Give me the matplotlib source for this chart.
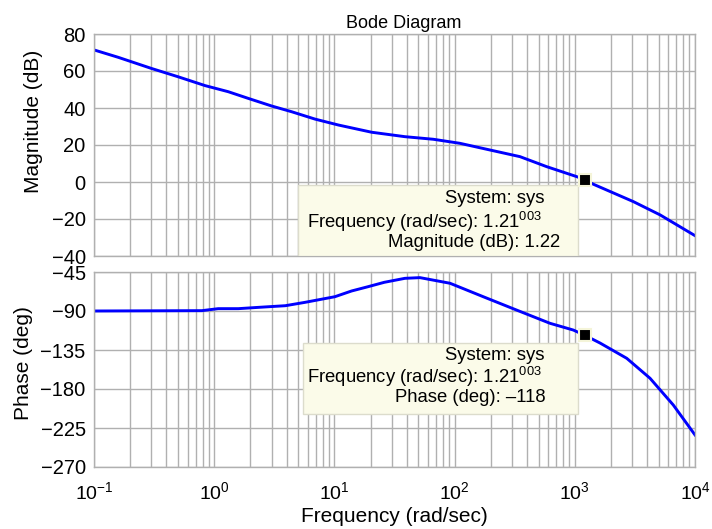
import matplotlib
matplotlib.use('Agg')
import matplotlib.pyplot as plt
from matplotlib.patches import Rectangle
from matplotlib.ticker import LogLocator, NullFormatter

plt.rcParams['font.family'] = ['Liberation Sans', 'DejaVu Sans']
plt.rcParams['mathtext.default'] = 'regular'

# Magnitude curve
mag_freq = [0.1, 0.159, 0.30, 0.50, 0.84, 1.31, 1.92, 3.0, 4.4, 6.9, 10.8, 20.4,
            38.6, 66.5, 111, 197, 350, 583, 1038, 1210, 1426, 3070, 5130, 10000]
mag_db = [71.4, 67.4, 61.4, 56.9, 52.1, 48.8, 45.2, 41.1, 38.0, 34.0, 30.8, 26.9,
          24.5, 23.1, 20.9, 17.3, 13.7, 8.3, 2.9, 1.22, -1.2, -10.6, -17.8, -29.0]

# Phase curve
phase_freq = [0.1, 0.79, 1.08, 1.59, 2.33, 3.9, 5.7, 10.1, 13.9, 19, 26, 38.6,
              51.5, 91.6, 173, 329, 622, 973, 1210, 1624, 2705, 4225, 6600, 10000]
phase_deg = [-90, -89.6, -87.3, -87.3, -85.8, -83.9, -80, -73.5, -66.9, -62, -56.9, -52.3,
             -51.5, -58, -73.5, -89, -104.2, -112, -118, -127, -144.6, -167.6, -198.5, -233]

# data tip
tip_freq = 1210
tip_mag = 1.22
tip_phase = -118

mag_ticks = [80, 60, 40, 20, 0, -20, -40]
phase_ticks = [-45, -90, -135, -180, -225, -270]

grid_col = '#b0b0b0'
line_col = '#0000ff'
tip_face = '#fbfbe9'
tip_edge = '#dcdccc'

fig = plt.figure(figsize=(7.12, 5.29), dpi=100)
ax1 = fig.add_axes([94 / 712, 1 - 256 / 529, 601 / 712, 222 / 529])
ax2 = fig.add_axes([94 / 712, 1 - 467 / 529, 601 / 712, 195 / 529], sharex=ax1)

for ax in (ax1, ax2):
    ax.set_xscale('log')
    ax.set_xlim(0.1, 1e4)
    ax.xaxis.set_major_locator(LogLocator(base=10, numticks=10))
    ax.xaxis.set_minor_locator(LogLocator(base=10, subs=range(2, 10), numticks=20))
    ax.xaxis.set_minor_formatter(NullFormatter())
    ax.grid(True, which='both', axis='x', color=grid_col, lw=1.0)
    ax.grid(True, which='major', axis='y', color=grid_col, lw=1.0)
    ax.tick_params(which='both', length=0)
    ax.tick_params(axis='y', labelsize=14.5, pad=6)
    ax.tick_params(axis='x', labelsize=14, pad=10)
    for s in ax.spines.values():
        s.set_color(grid_col)
        s.set_linewidth(1.0)
    ax.set_axisbelow(True)

ax1.plot(mag_freq, mag_db, color=line_col, lw=2.1)
ax1.set_ylim(-40, 80)
ax1.set_yticks(mag_ticks)
ax1.tick_params(labelbottom=False)
ax1.set_ylabel('Magnitude (dB)', fontsize=15)
ax1.yaxis.set_label_coords(-0.085, 0.608)
ax1.set_title('Bode Diagram', fontsize=13, x=0.516, pad=4)

ax2.plot(phase_freq, phase_deg, color=line_col, lw=2.1)
ax2.set_ylim(-270, -45)
ax2.set_yticks(phase_ticks)
ax2.set_ylabel('Phase (deg)', fontsize=15)
ax2.yaxis.set_label_coords(-0.101, 0.533)
ax2.set_xlabel('Frequency (rad/sec)', fontsize=15, labelpad=3)


def data_tip(ax, box, rows, marker_y):
    x0, y0, w, h = box
    ax.add_patch(Rectangle((x0, y0), w, h, transform=ax.transAxes,
                           facecolor=tip_face, edgecolor=tip_edge, lw=1.0, zorder=3))
    for (tx, ty, s) in rows:
        ax.text(tx, ty, s, transform=ax.transAxes, fontsize=13.3,
                va='center', ha='left', zorder=4)
    ax.plot([tip_freq], [marker_y], 's', ms=9, mfc='black', mec='#f4f4d8', mew=1.5,
            zorder=5, clip_on=False)


freq_row = 'Frequency (rad/sec): 1.21$^{003}$'

data_tip(ax1, (0.339, 0.0, 0.466, 0.32),
         [(0.584, 0.261, 'System: sys'),
          (0.354, 0.152, freq_row),
          (0.489, 0.063, 'Magnitude (dB): 1.22')],
         tip_mag)

data_tip(ax2, (0.348, 0.272, 0.457, 0.364),
         [(0.584, 0.574, 'System: sys'),
          (0.354, 0.460, freq_row),
          (0.501, 0.354, 'Phase (deg): \u2013118')],
         tip_phase)

fig.savefig('out.png', dpi=100)
